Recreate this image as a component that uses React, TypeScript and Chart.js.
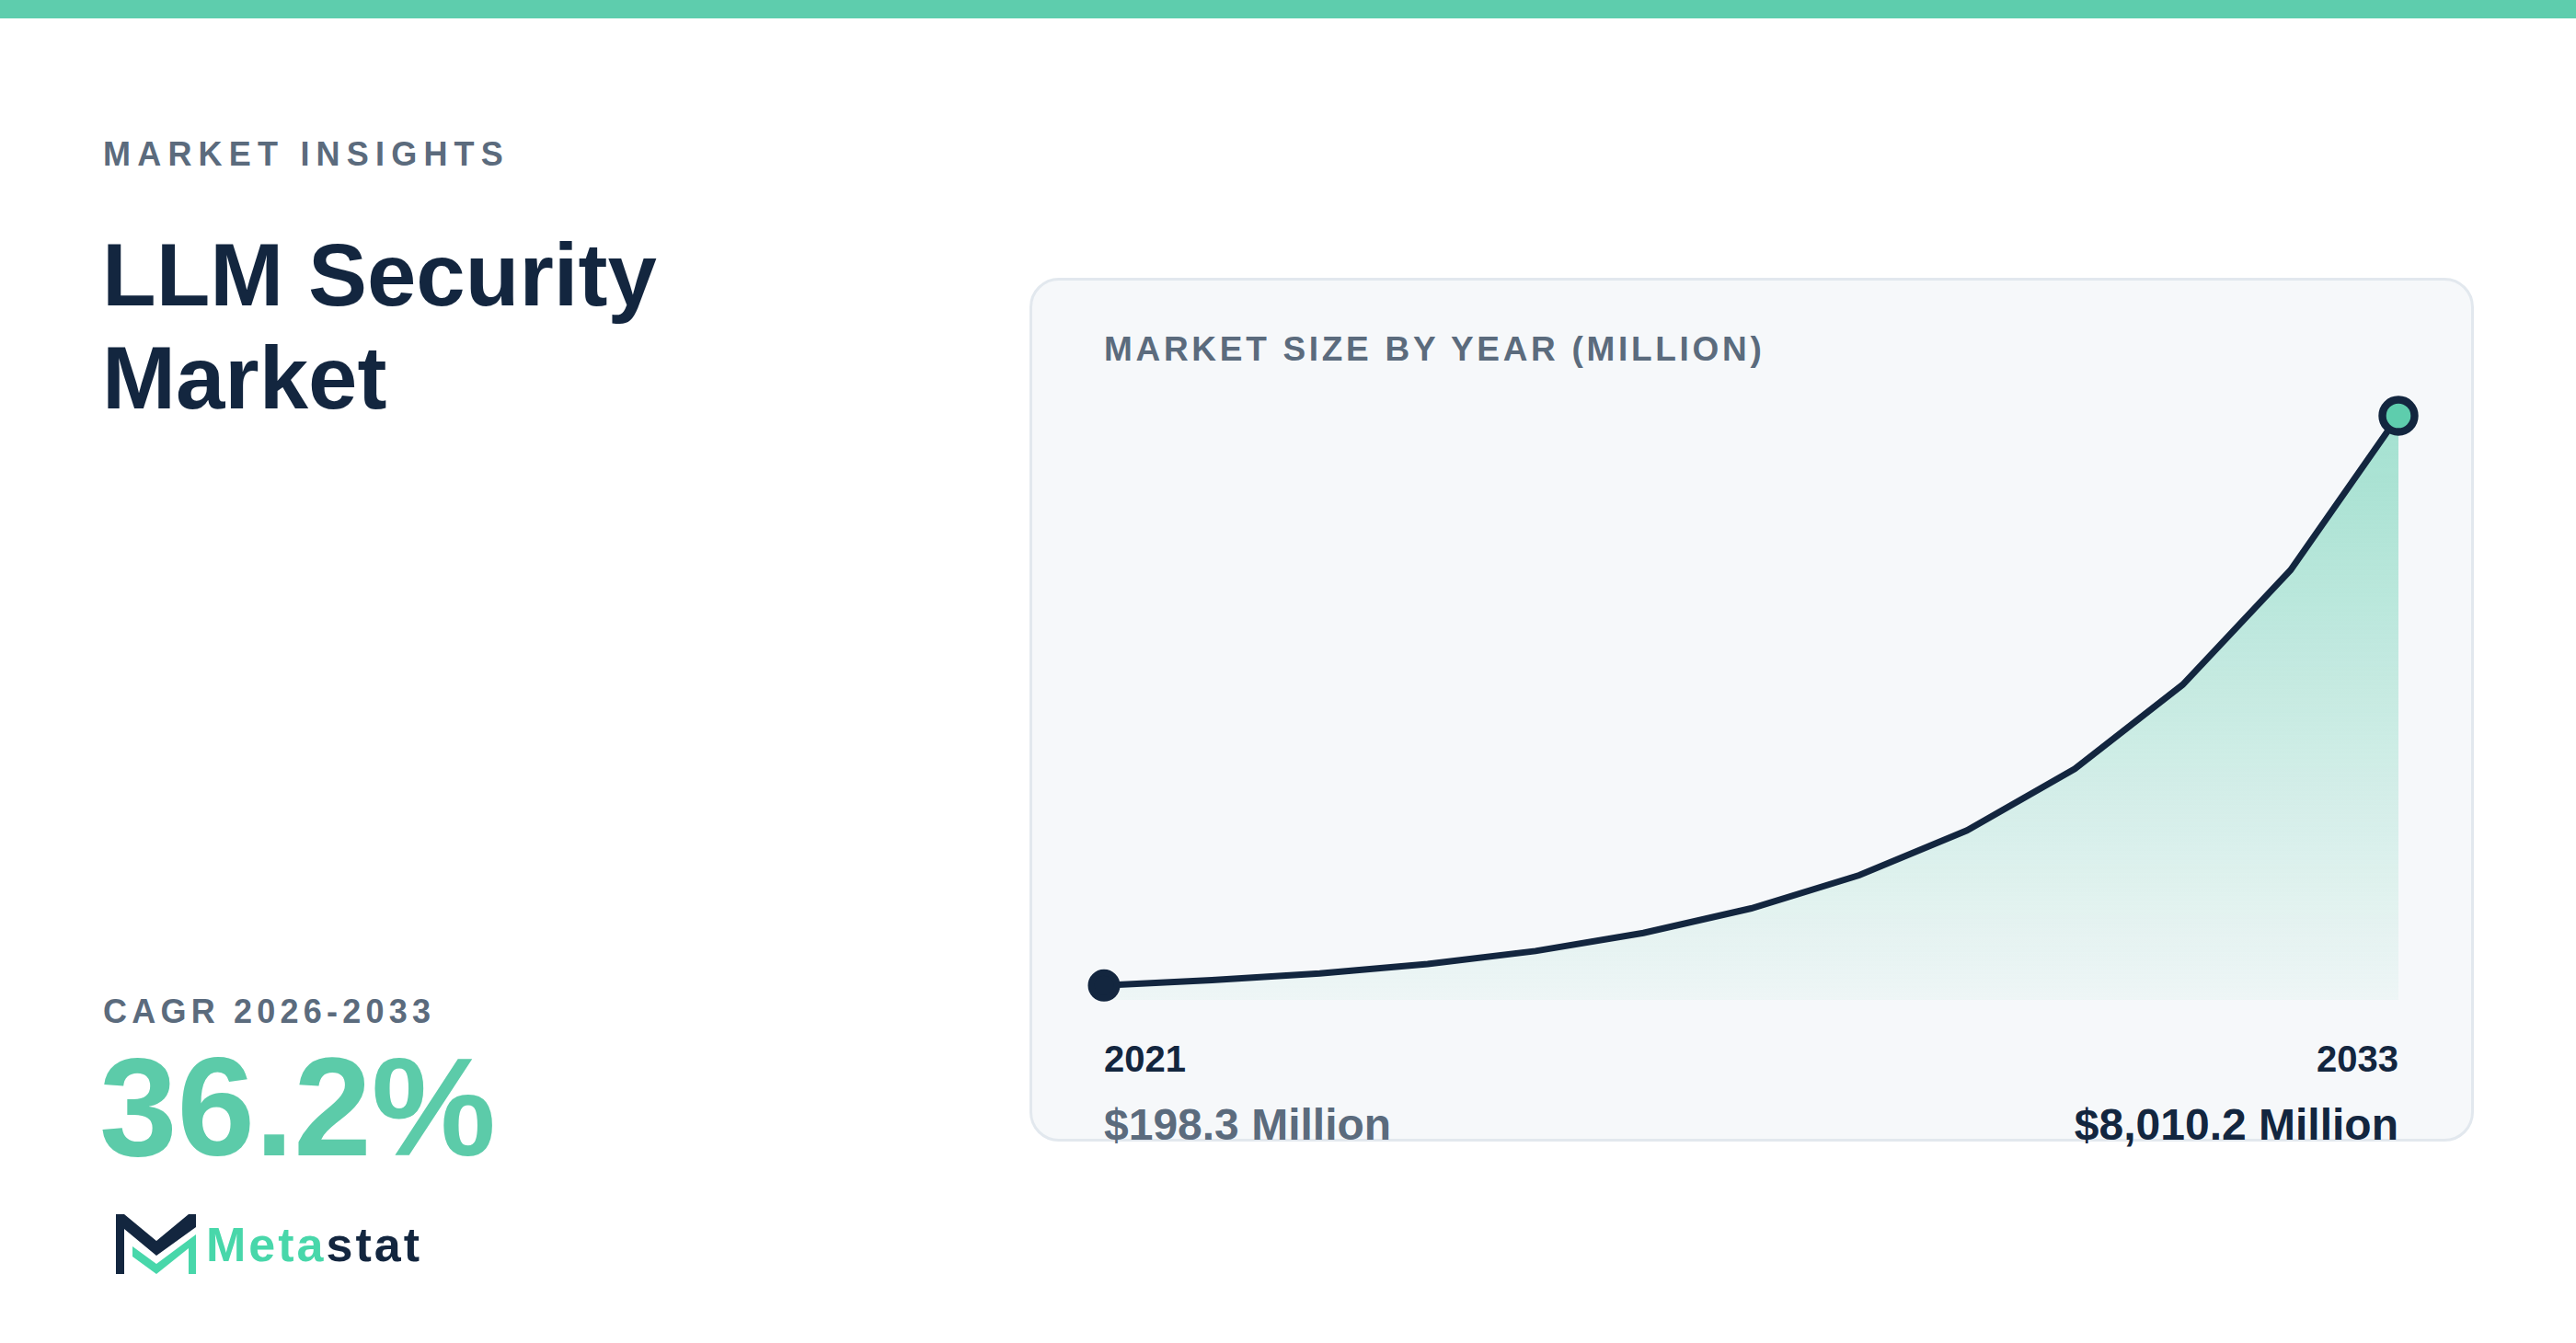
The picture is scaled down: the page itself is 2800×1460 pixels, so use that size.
import React, { useEffect, useRef } from "react";
import { Chart, registerables } from "chart.js";

Chart.register(...registerables);

// ---- data ----
const years = ["2021", "2022", "2023", "2024", "2025", "2026", "2027", "2028", "2029", "2030", "2031", "2032", "2033"];
const marketSize = [198.3, 272, 362, 493, 670, 918, 1255, 1709, 2324, 3168, 4322, 5895, 8010.2];
const eyebrow = "MARKET INSIGHTS";
const titleLines = ["LLM Security", "Market"];
const cagrLabel = "CAGR 2026-2033";
const cagrValue = "36.2%";
const cardTitle = "MARKET SIZE BY YEAR (MILLION)";
const brandParts = ["Meta", "stat"];

const NAVY = "#13263f";
const GRAY = "#5b6b7d";
const TEAL = "#5ecdad";
const FONT = "'Liberation Sans', Arial, Helvetica, sans-serif";

const fmtMoney = (v: number) =>
  "$" + v.toLocaleString("en-US", { minimumFractionDigits: 1, maximumFractionDigits: 1 }) + " Million";

function MarketChart() {
  const ref = useRef<HTMLCanvasElement | null>(null);
  useEffect(() => {
    if (!ref.current) return;
    const n = marketSize.length;
    const chart = new Chart(ref.current, {
      type: "line",
      data: {
        labels: years,
        datasets: [
          {
            data: marketSize,
            borderColor: NAVY,
            borderWidth: 7,
            tension: 0,
            fill: "origin",
            clip: false as any,
            backgroundColor: (ctx: any) => {
              const c = ctx.chart;
              const area = c.chartArea;
              if (!area) return "rgba(94,205,173,0.3)";
              const g = c.ctx.createLinearGradient(0, area.top, 0, area.bottom);
              g.addColorStop(0, "rgba(94,205,173,0.55)");
              g.addColorStop(1, "rgba(94,205,173,0.05)");
              return g;
            },
            pointRadius: marketSize.map((_, i) => (i === 0 ? 14 : i === n - 1 ? 17.5 : 0)),
            pointHoverRadius: marketSize.map((_, i) => (i === 0 ? 14 : i === n - 1 ? 17.5 : 0)),
            pointBorderWidth: marketSize.map((_, i) => (i === 0 ? 7 : i === n - 1 ? 8.4 : 0)),
            pointBackgroundColor: marketSize.map((_, i) => (i === n - 1 ? TEAL : NAVY)),
            pointBorderColor: NAVY,
          },
        ],
      },
      options: {
        animation: false,
        responsive: false,
        maintainAspectRatio: false,
        events: [],
        layout: { padding: { left: 50, right: 33, top: 52, bottom: 33 } },
        scales: {
          x: { display: false, offset: false },
          y: { display: false, min: 0, max: Math.max(...marketSize) },
        },
        plugins: { legend: { display: false }, tooltip: { enabled: false } },
      },
    });
    return () => chart.destroy();
  }, []);
  return (
    <canvas
      ref={ref}
      width={1490}
      height={720}
      style={{ position: "absolute", left: 1150, top: 400, width: 1490, height: 720 }}
    />
  );
}

function Logo() {
  return (
    <svg
      width={87}
      height={66}
      viewBox="0 0 87 66"
      style={{ position: "absolute", left: 126, top: 1320 }}
    >
      <polygon points="0,0 9,0 44,29 79,0 87,0 87,14 44,45 9,16 9,65 0,65" fill={NAVY} />
      <polygon points="18,35 44,54 87,22 87,65 79,65 79,37 44,65 18,46" fill="#48d7aa" />
    </svg>
  );
}

export default function App() {
  const first = marketSize[0];
  const last = marketSize[marketSize.length - 1];
  return (
    <div
      style={{
        position: "absolute",
        left: 0,
        top: 0,
        width: 2800,
        height: 1460,
        overflow: "hidden",
        background: "#ffffff",
        fontFamily: FONT,
      }}
    >
      <div style={{ position: "absolute", left: 0, top: 0, width: 2800, height: 20, background: TEAL }} />

      <div
        style={{
          position: "absolute",
          left: 112,
          top: 149.5,
          fontSize: 36,
          lineHeight: "36px",
          fontWeight: 700,
          letterSpacing: "0.2em",
          color: GRAY,
          whiteSpace: "nowrap",
        }}
      >
        {eyebrow}
      </div>

      <div
        style={{
          position: "absolute",
          left: 111,
          top: 242.7,
          fontSize: 96,
          lineHeight: "112px",
          fontWeight: 700,
          color: NAVY,
          whiteSpace: "nowrap",
        }}
      >
        {titleLines.map((l, i) => (
          <div key={i}>{l}</div>
        ))}
      </div>

      <div
        style={{
          position: "absolute",
          left: 112,
          top: 1081.5,
          fontSize: 36,
          lineHeight: "36px",
          fontWeight: 700,
          letterSpacing: "0.145em",
          color: GRAY,
          whiteSpace: "nowrap",
        }}
      >
        {cagrLabel}
      </div>

      <div
        style={{
          position: "absolute",
          left: 108,
          top: 1127.3,
          fontSize: 152,
          lineHeight: "152px",
          fontWeight: 700,
          color: "#5ccba9",
          whiteSpace: "nowrap",
        }}
      >
        {cagrValue}
      </div>

      <Logo />
      <div
        style={{
          position: "absolute",
          left: 224,
          top: 1327,
          fontSize: 52,
          lineHeight: "52px",
          fontWeight: 700,
          letterSpacing: "3px",
          whiteSpace: "nowrap",
        }}
      >
        <span style={{ color: "#48d7aa" }}>{brandParts[0]}</span>
        <span style={{ color: NAVY }}>{brandParts[1]}</span>
      </div>

      {/* card */}
      <div
        style={{
          position: "absolute",
          left: 1119,
          top: 302,
          width: 1570,
          height: 939,
          boxSizing: "border-box",
          border: "3px solid #e2e8ee",
          borderRadius: 32,
          background: "#f6f8fa",
        }}
      />
      <div
        style={{
          position: "absolute",
          left: 1200,
          top: 361.2,
          fontSize: 37,
          lineHeight: "37px",
          fontWeight: 700,
          letterSpacing: "0.1em",
          color: GRAY,
          whiteSpace: "nowrap",
        }}
      >
        {cardTitle}
      </div>

      <MarketChart />

      <div
        style={{
          position: "absolute",
          left: 1200,
          top: 1131,
          fontSize: 40,
          lineHeight: "40px",
          fontWeight: 700,
          color: NAVY,
          whiteSpace: "nowrap",
        }}
      >
        {years[0]}
      </div>
      <div
        style={{
          position: "absolute",
          right: 2800 - 2607,
          top: 1131,
          fontSize: 40,
          lineHeight: "40px",
          fontWeight: 700,
          color: NAVY,
          whiteSpace: "nowrap",
          textAlign: "right",
        }}
      >
        {years[years.length - 1]}
      </div>
      <div
        style={{
          position: "absolute",
          left: 1200,
          top: 1198.5,
          fontSize: 48,
          lineHeight: "48px",
          fontWeight: 700,
          color: GRAY,
          whiteSpace: "nowrap",
        }}
      >
        {fmtMoney(first)}
      </div>
      <div
        style={{
          position: "absolute",
          right: 2800 - 2607,
          top: 1198.5,
          fontSize: 48,
          lineHeight: "48px",
          fontWeight: 700,
          color: NAVY,
          whiteSpace: "nowrap",
          textAlign: "right",
        }}
      >
        {fmtMoney(last)}
      </div>
    </div>
  );
}
